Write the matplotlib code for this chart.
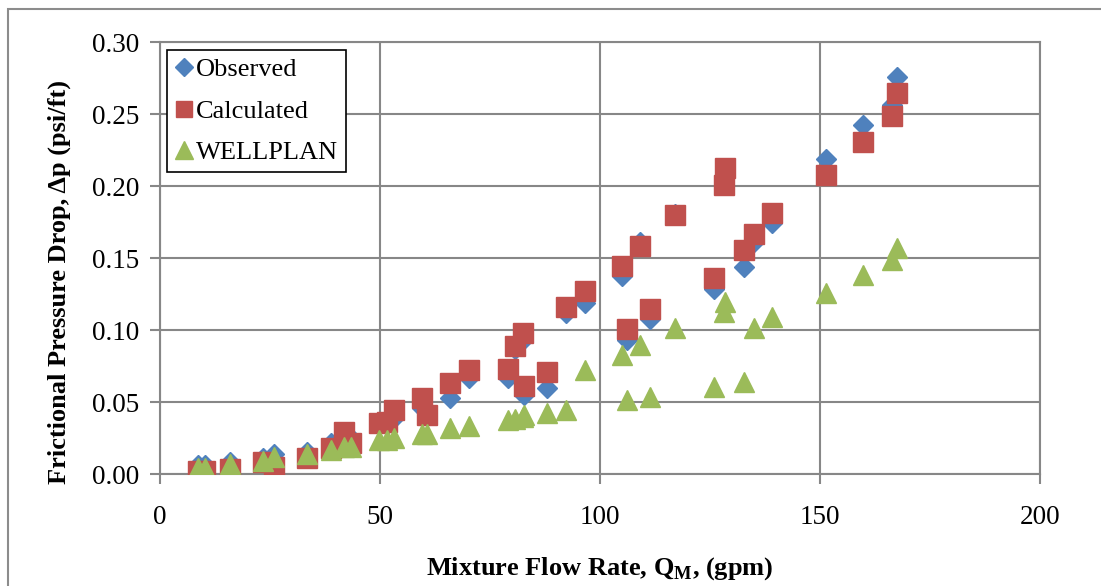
import matplotlib
matplotlib.use("Agg")
import matplotlib.pyplot as plt
from matplotlib.patches import Rectangle

# Data
flow_rate = [8.7, 10.3, 15.8, 23.5, 25.9, 33.3, 38.8, 41.8, 43.5, 49.8, 51.5, 53.1,
             59.5, 60.6, 65.9, 70.2, 79.2, 80.6, 82.6, 82.7, 88.0, 92.3, 96.7,
             104.9, 106.1, 109.1, 111.4, 117.0, 125.8, 128.2, 128.4, 132.8, 135.0,
             139.2, 151.4, 159.7, 166.3, 167.4]
observed = [0.0065, 0.0068, 0.0088, 0.0115, 0.014, 0.0157, 0.022, 0.0285, 0.025, 0.034,
            0.035, 0.039, 0.0458, 0.042, 0.053, 0.0667, 0.0667, 0.087, 0.0935, 0.055,
            0.0597, 0.1118, 0.1187, 0.138, 0.093, 0.1615, 0.108, 0.181, 0.129, 0.2044,
            0.211, 0.144, 0.1615, 0.1745, 0.2192, 0.2426, 0.2565, 0.2757]
calculated = [0.0023, 0.0023, 0.004, 0.0083, 0.0053, 0.011, 0.0185, 0.0296, 0.0215, 0.0354,
              0.036, 0.0446, 0.0528, 0.0415, 0.0637, 0.0724, 0.073, 0.089, 0.098, 0.0613,
              0.0713, 0.116, 0.127, 0.1447, 0.1007, 0.1585, 0.1146, 0.180, 0.136, 0.201,
              0.213, 0.1557, 0.167, 0.1817, 0.208, 0.2306, 0.2488, 0.2646]
wellplan = [0.0042, 0.0045, 0.0072, 0.0094, 0.0118, 0.014, 0.0169, 0.019, 0.019, 0.0238,
            0.024, 0.025, 0.0283, 0.0283, 0.032, 0.0336, 0.0377, 0.0385, 0.040, 0.041,
            0.0424, 0.0447, 0.0724, 0.0828, 0.0516, 0.0898, 0.054, 0.1014, 0.0608, 0.113,
            0.12, 0.0643, 0.1014, 0.109, 0.1257, 0.1385, 0.149, 0.157]
x_ticks = [0, 50, 100, 150, 200]
y_ticks = [0.00, 0.05, 0.10, 0.15, 0.20, 0.25, 0.30]

plt.rcParams['font.family'] = ['Liberation Serif', 'DejaVu Serif']

W, H = 1101, 586
fig = plt.figure(figsize=(W / 100, H / 100), dpi=100)
ax = fig.add_axes([160 / W, 1 - 474.3 / H, 880 / W, 432 / H])

# outer chart border
fig.patches.append(Rectangle((8 / W, -0.1), 1.2, 1 - 9 / H + 0.1, transform=fig.transFigure,
                             fill=False, edgecolor='#8c8c8c', linewidth=1.5))

blue, red, green = '#4F81BD', '#C0504D', '#9BBB59'
ax.plot(flow_rate, observed, linestyle='none', marker='D', markersize=10.5,
        color=blue, markeredgecolor=blue, label='Observed', zorder=3)
ax.plot(flow_rate, calculated, linestyle='none', marker='s', markersize=14,
        color=red, markeredgecolor=red, label='Calculated', zorder=4)
ax.plot(flow_rate, wellplan, linestyle='none', marker='^', markersize=15,
        color=green, markeredgecolor=green, label='WELLPLAN', zorder=5)

ax.set_xlim(0, 200)
ax.set_ylim(0, 0.30)
ax.set_xticks(x_ticks)
ax.set_yticks(y_ticks)
ax.set_xticklabels([str(v) for v in x_ticks])
ax.set_yticklabels([f"{v:.2f}" for v in y_ticks])
ax.grid(True, color='#878787', linewidth=1.5)
ax.set_axisbelow(True)
for s in ax.spines.values():
    s.set_color('#878787')
    s.set_linewidth(1.5)
ax.tick_params(axis='both', direction='out', length=7, width=1.5, color='#878787',
               labelsize=19.5, pad=8)
ax.tick_params(axis='x', pad=15)

ax.set_xlabel('Mixture Flow Rate, Q$_\\mathregular{M}$, (gpm)', fontsize=19,
              fontweight='bold', labelpad=18)
ax.set_ylabel('Frictional Pressure Drop, Δp (psi/ft)', fontsize=19,
              fontweight='bold')
ax.yaxis.set_label_coords(-0.101, 0.445)

leg = ax.legend(loc='upper left', bbox_to_anchor=(7 / 880, 1 - 7.7 / 432),
                borderaxespad=0, fontsize=19, handlelength=0.7, handletextpad=0.1,
                labelspacing=0.68, borderpad=0.3, fancybox=False, framealpha=1,
                edgecolor='black', markerscale=0.85)
leg.get_frame().set_linewidth(1.2)

fig.savefig('out.png', dpi=100)
